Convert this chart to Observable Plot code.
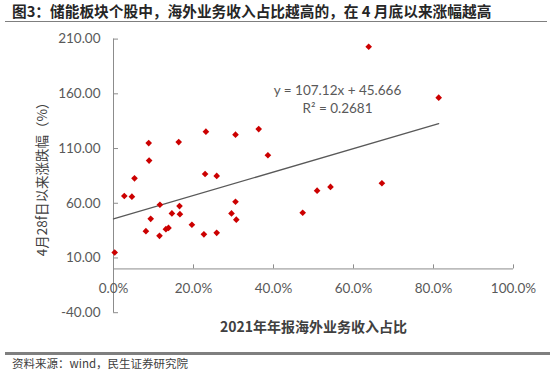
<!DOCTYPE html>
<html><head><meta charset="utf-8">
<script src="https://cdn.jsdelivr.net/npm/d3@7"></script>
<script src="https://cdn.jsdelivr.net/npm/@observablehq/plot@0.6"></script>
<style>
body{margin:0;background:#fff;}
#wrap{position:relative;width:550px;height:372px;overflow:hidden;background:#fff;}
#title{position:absolute;left:12px;top:2px;font:bold 14.7px "Noto Sans CJK SC",sans-serif;color:#262626;white-space:nowrap;line-height:18px;}
#tline{position:absolute;left:5px;top:21px;width:542px;height:1.5px;background:#7f7f7f;}
#chart{position:absolute;left:0;top:22px;}
#fline{position:absolute;left:5px;top:352px;width:545px;height:2.5px;background:#7f7f7f;}
#foot{position:absolute;left:12px;top:355px;font:11.5px "Noto Sans CJK SC",sans-serif;color:#404040;white-space:nowrap;line-height:16px;}
</style></head>
<body>
<div id="wrap">
<div id="title"></div>
<div id="tline"></div>
<div id="chart"></div>
<div id="fline"></div>
<div id="foot"></div>
</div>
<script>
const titleText = "图3：储能板块个股中，海外业务收入占比越高的，在 4 月底以来涨幅越高";
const sourceText = "资料来源：wind，民生证券研究院";
const xTitle = "2021年年报海外业务收入占比";
const yTitle = "4月28f日以来涨跌幅（%）";

// overseas revenue share (fraction)
const shareX = [0.003,0.027,0.046,0.0525,0.088,0.089,0.081,0.093,0.116,0.115,0.131,0.1375,0.146,0.165,0.166,0.163,0.196,0.226,0.229,0.258,0.258,0.295,0.305,0.307,0.231,0.305,0.363,0.386,0.473,0.509,0.5425,0.638,0.813,0.671];
// change since Apr 28 (%)
const changeY = [15,66.6,66,82.8,115,99,34.5,45.8,58.6,30.2,36.3,37.5,50.7,57.4,50,115.9,40.4,31.6,86.7,85,33,50.7,61.4,45,125.4,122.7,127.8,103.9,51.3,71.5,74.9,203,156.5,78.3];

const slope = [107.12];
const intercept = [45.666];
const r2 = [0.2681];

const xTicks = [0,0.2,0.4,0.6,0.8,1.0];
const yTicks = [-40,10,60,110,160,210];

document.getElementById("title").textContent = titleText;
document.getElementById("foot").textContent = sourceText;

const pts = shareX.map((x,i)=>({x, y: changeY[i]}));
const xMax = d3.max(shareX);
const trend = [0, xMax].map(x=>({x, y: slope[0]*x + intercept[0]}));
const eqText = `y = ${slope[0]}x + ${intercept[0]}\nR² = ${r2[0]}`;

const axisColor = "#8c8c8c";
const labelColor = "#595959";
const font = "Lato, sans-serif";

const plot = Plot.plot({
  width: 550, height: 330,
  marginLeft: 0, marginRight: 0, marginTop: 0, marginBottom: 0,
  x: {domain:[0,1], range:[113,513], axis: null},
  y: {domain:[-40,210], range:[290.2,16.6], axis: null},
  style: {fontFamily: font, background: "#fff"},
  marks: [
    // y axis
    Plot.ruleX([0], {y1:-40, y2:210, stroke: axisColor, strokeWidth: 1}),
    Plot.ruleY(yTicks, {y: d=>d, x1: 0, x2: 0.0125, stroke: axisColor}),
    Plot.text(yTicks, {x: 0, y: d=>d, dx: -13, text: d=>d.toFixed(2), textAnchor: "end", fill: labelColor, fontSize: 13.5, fontFamily: font}),
    // x axis
    Plot.ruleY([0], {x1:0, x2:1, stroke: axisColor, strokeWidth: 1}),
    Plot.ruleX(xTicks, {x: d=>d, y1: 0, y2: 3.7, stroke: axisColor}),
    Plot.text(xTicks, {x: d=>d, y: 0, dy: 20, text: d=>(d*100).toFixed(1)+"%", fill: labelColor, fontSize: 13.5, fontFamily: font}),
    // titles
    Plot.text([xTitle], {x: 0.5, y: -40, dy: 14.5, text: d=>d, fontWeight: "bold", fontSize: 14, fill: "#404040", fontFamily: "'Noto Sans CJK SC', sans-serif"}),
    Plot.text([yTitle], {x: 0, y: 85, dx: -71, rotate: -90, text: d=>d, fontSize: 13.5, fill: "#404040", fontFamily: "'Noto Sans CJK SC', sans-serif"}),
    // trend line
    Plot.line(trend, {x:"x", y:"y", stroke:"#595959", strokeWidth: 1.3}),
    Plot.text([eqText], {x: 0.56, y: 156.2, text: d=>d, fill: labelColor, fontSize: 13.5, lineHeight: 1.36, fontFamily: font}),
    // points
    Plot.dot(pts, {x:"x", y:"y", symbol:"diamond2", r: 3, fill:"#cc0000", stroke:"none"})
  ]
});
document.getElementById("chart").appendChild(plot);
</script>
</body></html>
